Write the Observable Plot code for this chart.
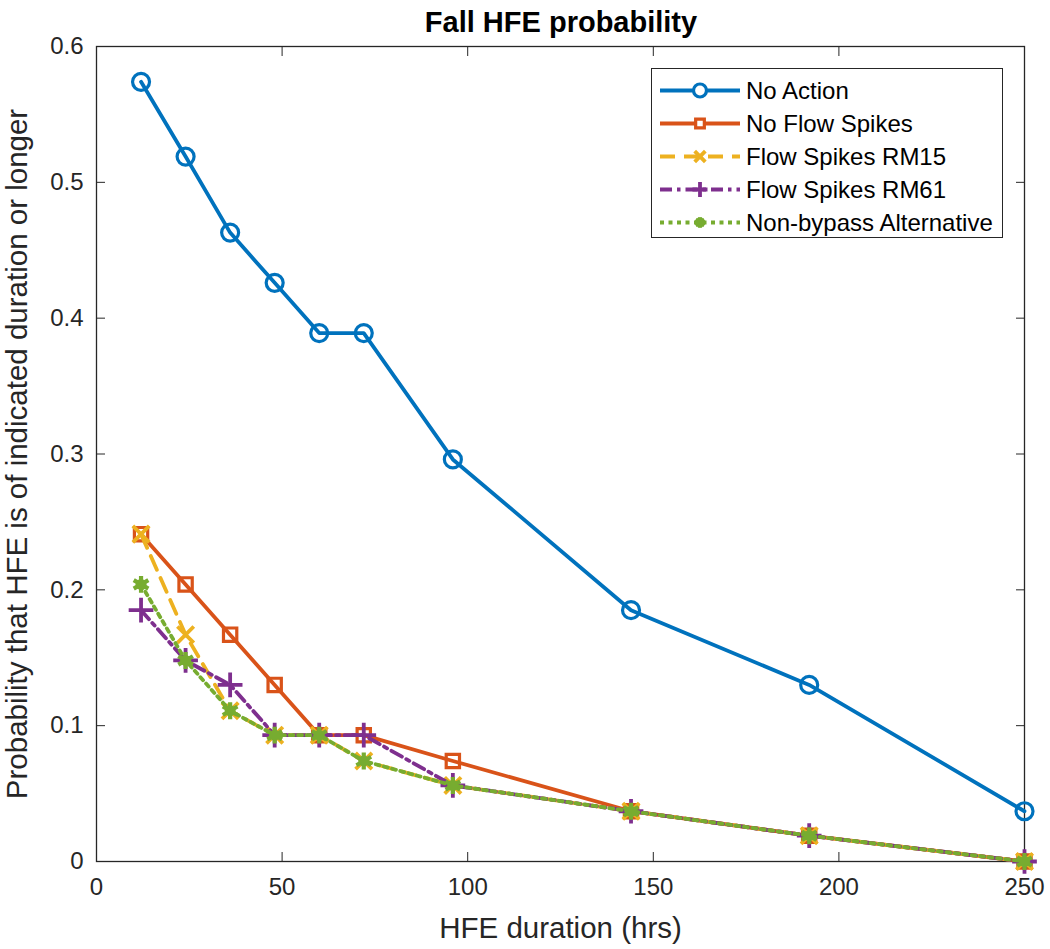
<!DOCTYPE html>
<html>
<head>
<meta charset="utf-8">
<script src="https://cdn.jsdelivr.net/npm/d3@7"></script>
<script src="https://cdn.jsdelivr.net/npm/@observablehq/plot@0.6"></script>
<style>
  body { margin: 0; background: #fff; font-family: "Liberation Sans", Arial, sans-serif; }
  #wrap { position: relative; width: 1050px; height: 949px; }
  #title { position: absolute; top: 8px; left: 0; width: 1122px; text-align: center; font-weight: bold; font-size: 29px; line-height: 1; color: #000; }
  #legend { position: absolute; left: 651px; top: 68px; width: 350px; height: 168px; border: 1.5px solid #262626; background: #fff; }
  .row { position: absolute; left: 0; height: 33px; display: flex; align-items: center; }
  .row span { font-size: 24px; color: #000; margin-left: 6px; }
</style>
</head>
<body>
<div id="wrap">
  <div id="chart"></div>
  <div id="title">Fall HFE probability</div>
  <div id="legend"></div>
</div>
<script>
const durations = [12, 24, 36, 48, 60, 72, 96, 144, 192, 250];
const noAction = [0.574, 0.519, 0.463, 0.426, 0.389, 0.389, 0.296, 0.185, 0.130, 0.037];
const noFlowSpikes = [0.241, 0.204, 0.167, 0.130, 0.093, 0.093, 0.074, 0.037, 0.019, 0];
const flowSpikesRM15 = [0.241, 0.167, 0.111, 0.093, 0.093, 0.074, 0.056, 0.037, 0.019, 0];
const flowSpikesRM61 = [0.185, 0.148, 0.130, 0.093, 0.093, 0.093, 0.056, 0.037, 0.019, 0];
const nonBypass = [0.204, 0.148, 0.111, 0.093, 0.093, 0.074, 0.056, 0.037, 0.019, 0];
const xTicks = [0, 50, 100, 150, 200, 250];
const yTicks = [0, 0.1, 0.2, 0.3, 0.4, 0.5, 0.6];

const seriesNames = ["No Action", "No Flow Spikes", "Flow Spikes RM15", "Flow Spikes RM61", "Non-bypass Alternative"];
const seriesValues = [noAction, noFlowSpikes, flowSpikesRM15, flowSpikesRM61, nonBypass];
const styles = [
  {color: "#0072BD", dash: null, symbol: "circle", r: 8.5, sw: 3.2},
  {color: "#D95319", dash: null, symbol: "square", r: 7.5, sw: 3.2},
  {color: "#EDB120", dash: "15,9", symbol: "times", r: 7.5, sw: 3.8},
  {color: "#7E2F8E", dash: "12,5,3.5,5", symbol: "plus", r: 8, sw: 3.8},
  {color: "#77AC30", dash: "4,4.5", symbol: "asterisk", r: 8, sw: 4.2}
];

const marks = [];
seriesNames.forEach((name, i) => {
  const data = durations.map((d, j) => ({x: d, y: seriesValues[i][j]}));
  const s = styles[i];
  marks.push(Plot.line(data, {x: "x", y: "y", stroke: s.color, strokeWidth: 3.8, strokeDasharray: s.dash}));
  marks.push(Plot.dot(data, {x: "x", y: "y", symbol: s.symbol, r: s.r, stroke: s.color, strokeWidth: s.sw, fill: "none"}));
  if (s.symbol === "asterisk") {
    marks.push(Plot.dot(data, {x: "x", y: "y", r: 5.5, fill: s.color, stroke: "none"}));
  }
});

const chart = Plot.plot({
  width: 1050,
  height: 949,
  marginTop: 46,
  marginBottom: 88,
  marginLeft: 96,
  marginRight: 26,
  style: {fontFamily: "Liberation Sans, Arial, sans-serif", fontSize: "24px", color: "#262626", background: "#fff"},
  x: {domain: [0, 250], ticks: xTicks},
  y: {domain: [0, 0.6], ticks: yTicks},
  marks: [
    Plot.axisX({anchor: "bottom", ticks: xTicks, tickSize: -9, tickPadding: 25, tickFormat: d => String(d), label: "HFE duration (hrs)", labelAnchor: "center", labelArrow: "none", labelOffset: 76, fontSize: 24, stroke: "#262626"}),
    Plot.axisX({anchor: "top", ticks: xTicks, tickSize: -9, tickFormat: () => "", label: null, stroke: "#262626"}),
    Plot.axisY({anchor: "left", ticks: yTicks, tickSize: -9, tickPadding: 22, tickFormat: d => d === 0 ? "0" : d3.format(".1f")(d), label: "Probability that HFE is of indicated duration or longer", labelAnchor: "center", labelArrow: "none", labelOffset: 90, fontSize: 24, stroke: "#262626"}),
    Plot.axisY({anchor: "right", ticks: yTicks, tickSize: -9, tickFormat: () => "", label: null, stroke: "#262626"}),
    Plot.frame({stroke: "#262626", strokeWidth: 1.3}),
    ...marks
  ]
});
document.getElementById("chart").appendChild(chart);
chart.querySelectorAll("g[aria-label='x-axis label'] text, g[aria-label='y-axis label'] text").forEach(t => t.setAttribute("font-size", "29.5px"));

// legend
const legend = document.getElementById("legend");
seriesNames.forEach((name, i) => {
  const s = styles[i];
  const row = document.createElement("div");
  row.className = "row";
  row.style.top = (5 + i * 33) + "px";
  const svg = d3.create("svg").attr("width", 88).attr("height", 33);
  svg.append("line").attr("x1", 8).attr("x2", 88).attr("y1", 16.5).attr("y2", 16.5)
    .attr("stroke", s.color).attr("stroke-width", 3.8).attr("stroke-dasharray", s.dash);
  const sym = {circle: d3.symbolCircle, square: d3.symbolSquare, times: d3.symbolTimes, plus: d3.symbolPlus, asterisk: d3.symbolAsterisk}[s.symbol];
  const size = s.symbol === "circle" ? Math.PI * 42 : Math.PI * 24;
  svg.append("path").attr("d", d3.symbol(sym, size)()).attr("transform", "translate(48,16.5)")
    .attr("fill", s.symbol === "circle" || s.symbol === "square" ? "#fff" : "none").attr("stroke", s.color).attr("stroke-width", s.sw);
  if (s.symbol === "asterisk") svg.append("circle").attr("cx", 48).attr("cy", 16.5).attr("r", 5).attr("fill", s.color);
  row.appendChild(svg.node());
  const span = document.createElement("span");
  span.textContent = name;
  row.appendChild(span);
  legend.appendChild(row);
});
</script>
</body>
</html>
